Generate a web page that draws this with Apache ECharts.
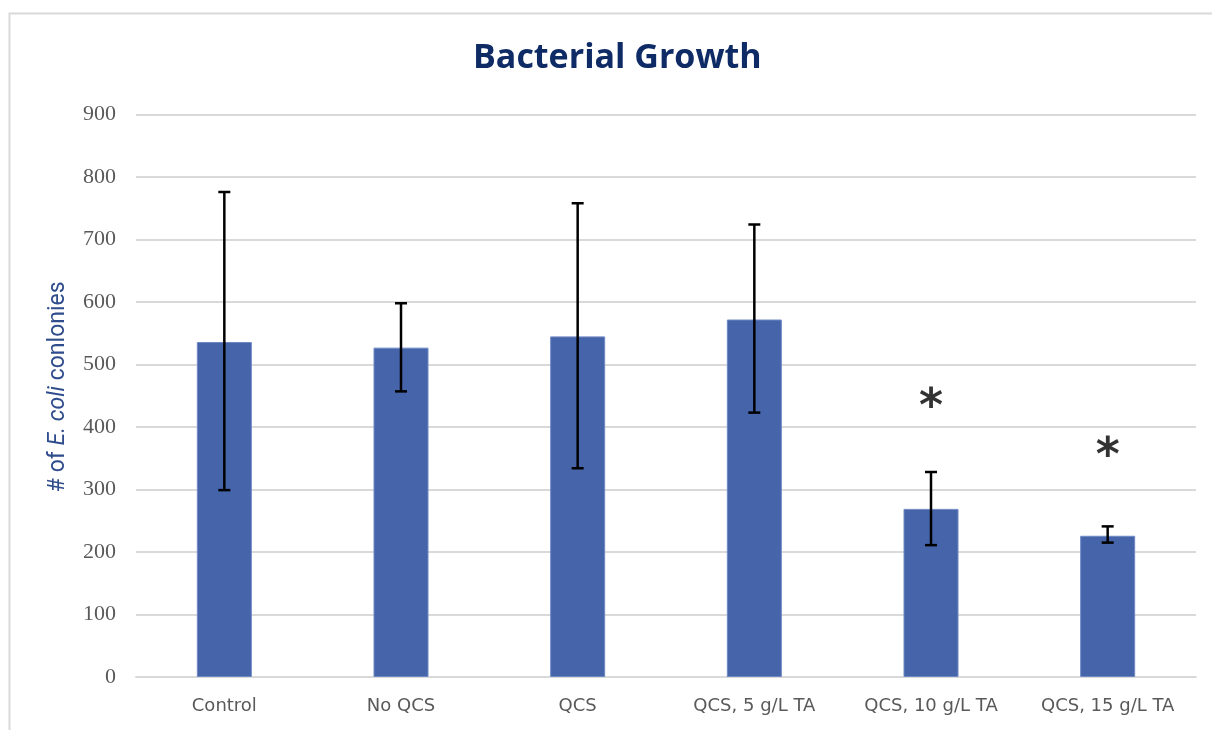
<!DOCTYPE html>
<html><head><meta charset="utf-8">
<script src="https://cdn.jsdelivr.net/npm/echarts@6/dist/echarts.min.js"></script>
<style>html,body{margin:0;padding:0;background:#fff}#c{width:1212px;height:730px}</style>
</head><body><div id="c"></div>
<script>
const categories = ['Control', 'No QCS', 'QCS', 'QCS, 5 g/L TA', 'QCS, 10 g/L TA', 'QCS, 15 g/L TA'];
const means = [536, 527, 545, 572, 269, 226];
const errLow = [299, 457, 334, 423, 211, 215];
const errHigh = [776, 598, 758, 724, 328, 241];
const starY = [null, null, null, null, 446, 368];
const yTicks = [0, 100, 200, 300, 400, 500, 600, 700, 800, 900];

const chart = echarts.init(document.getElementById('c'));
const errData = categories.map((c, i) => [i, errLow[i], errHigh[i]]);
const starData = categories.map((c, i) => starY[i] == null ? [i, '-'] : [i, starY[i]]);

chart.setOption({
  animation: false,
  title: {
    text: 'Bacterial Growth', left: 468, top: 36,
    textStyle: { fontFamily: 'Open Sans', fontWeight: 'bold', fontSize: 34, color: '#0F2B66' }
  },
  graphic: [{
    type: 'rect', left: 7, top: 11, shape: { width: 1300, height: 800 },
    style: { fill: 'none', stroke: '#d9d9d9', lineWidth: 2 }, silent: true, z: -1
  }],
  grid: { left: 136, right: 16, top: 114.5, bottom: 53 },
  xAxis: {
    type: 'category', data: categories,
    axisLine: { lineStyle: { color: '#d9d9d9', width: 2 } },
    axisTick: { show: false },
    axisLabel: { interval: 0, margin: 20, color: '#595959', fontFamily: 'DejaVu Sans', fontSize: 18 }
  },
  yAxis: {
    type: 'value', min: yTicks[0], max: yTicks[yTicks.length - 1], interval: 100,
    axisLine: { show: false }, axisTick: { show: false },
    splitLine: { lineStyle: { color: '#d9d9d9', width: 2 } },
    axisLabel: { margin: 20, color: '#595959', fontFamily: 'Liberation Serif', fontSize: 22 },
    name: '{a|# of }{i|E. coli}{a| conlonies}',
    nameLocation: 'middle', nameGap: 66,
    nameTextStyle: {
      padding: [0, 0, 0, 18],
      rich: {
        a: { fontFamily: 'Roboto', fontSize: 23, color: '#2F4C8C' },
        i: { fontFamily: 'Roboto', fontSize: 23, fontStyle: 'italic', color: '#2F4C8C' }
      }
    }
  },
  series: [
    {
      type: 'bar', data: means, barWidth: 55,
      itemStyle: { color: '#4564AA', borderColor: '#6F89C4', borderWidth: 1 }
    },
    {
      type: 'custom', data: errData, z: 10,
      renderItem: function (params, api) {
        const x = api.value(0);
        const lo = api.coord([x, api.value(1)]);
        const hi = api.coord([x, api.value(2)]);
        const hw = 6;
        const st = { stroke: '#000', lineWidth: 2.5 };
        return {
          type: 'group', children: [
            { type: 'line', shape: { x1: lo[0], y1: lo[1], x2: hi[0], y2: hi[1] }, style: st },
            { type: 'line', shape: { x1: lo[0] - hw, y1: lo[1], x2: lo[0] + hw, y2: lo[1] }, style: st },
            { type: 'line', shape: { x1: hi[0] - hw, y1: hi[1], x2: hi[0] + hw, y2: hi[1] }, style: st }
          ]
        };
      }
    },
    {
      type: 'scatter', data: starData, symbolSize: 1, itemStyle: { color: 'rgba(0,0,0,0)' }, z: 11,
      label: {
        show: true, position: 'inside', formatter: '*', offset: [0, 11],
        fontFamily: 'DejaVu Sans', fontWeight: 'bold', fontSize: 46, color: '#000'
      }
    }
  ]
});
</script></body></html>
